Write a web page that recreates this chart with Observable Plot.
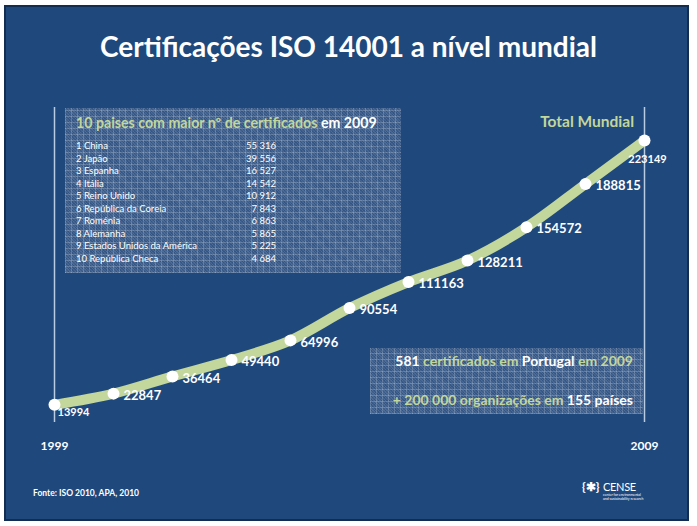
<!DOCTYPE html>
<html>
<head>
<meta charset="utf-8">
<script src="https://cdn.jsdelivr.net/npm/d3@7"></script>
<script src="https://cdn.jsdelivr.net/npm/@observablehq/plot@0.6"></script>
<style>
  html, body { margin: 0; padding: 0; background: #fff; }
  #wrap { position: relative; width: 697px; height: 526px; overflow: hidden; font-family: Lato, "Open Sans", sans-serif; }
  #bg { position: absolute; left: 4px; top: 5px; width: 681px; height: 512px; background: #1F497D; border: 2px solid #122d4f; }
  .patt { position: absolute; background-color: #3a5d8c;
    background-image:
      repeating-linear-gradient(0deg, rgba(255,255,255,0.18) 0 1px, transparent 1px 6px),
      repeating-linear-gradient(90deg, rgba(255,255,255,0.18) 0 1px, transparent 1px 6px),
      repeating-linear-gradient(45deg, rgba(255,255,255,0.10) 0 1px, transparent 1px 2px),
      repeating-linear-gradient(-45deg, rgba(0,20,60,0.10) 0 1px, transparent 1px 2px); }
  .abs { position: absolute; white-space: nowrap; }
  .g { color: #C3D69B; }
  .w { color: #ffffff; }
  #title { left: 0; width: 697px; top: 29px; text-align: center; color: #fff; font-weight: 700; font-size: 28px; }
  #thead { left: 76px; top: 114px; font-size: 14.2px; font-weight: 700; }
  .row { position: absolute; left: 76px; width: 200px; font-size: 9.5px; color: #fff; line-height: 12px; }
  .row span.v { position: absolute; right: 0; }
  #total { right: 63px; top: 112px; font-size: 15.5px; font-weight: 700; }
  .rb { right: 64px; font-size: 14px; font-weight: 700; }
  #src { left: 33px; top: 488px; font-size: 8.5px; font-weight: 700; color: #fff; }
  #logo1 { left: 582px; top: 479px; font-size: 12px; font-weight: 700; color: #fff; }
  #logo2 { left: 603px; top: 480px; font-size: 11px; color: #fff; letter-spacing: -0.3px; }
  #logo3 { left: 603px; top: 493px; font-size: 3.5px; color: #fff; line-height: 4px; }
  #chart { position: absolute; left: 0; top: 0; }
</style>
</head>
<body>
<div id="wrap">
  <div id="bg"></div>
  <div class="patt" style="left:65px; top:108px; width:336px; height:165px;"></div>
  <div class="patt" style="left:370px; top:348px; width:273px; height:66px;"></div>
  <div id="title" class="abs">Certificações ISO 14001 a nível mundial</div>
  <div id="thead" class="abs"><span class="g">10 paises com maior nº de certificados</span> <span class="w">em 2009</span></div>
  <div id="rows"></div>
  <div id="total" class="abs g">Total Mundial</div>
  <div class="abs rb" style="top:352px;"><span class="w">581</span> <span class="g">certificados em</span> <span class="w">Portugal</span> <span class="g">em 2009</span></div>
  <div class="abs rb" style="top:391px;"><span class="g">+ 200 000 organizações em</span> <span class="w">155 países</span></div>
  <div id="src" class="abs">Fonte: ISO 2010, APA, 2010</div>
  <div id="logo1" class="abs">{✱}</div>
  <div id="logo2" class="abs">CENSE</div>
  <div id="logo3" class="abs">center for environmental<br>and sustainability research</div>
  <div id="chart"></div>
</div>
<script>
// Data
const years = [1999, 2000, 2001, 2002, 2003, 2004, 2005, 2006, 2007, 2008, 2009];
const totals = [13994, 22847, 36464, 49440, 64996, 90554, 111163, 128211, 154572, 188815, 223149];
const axisYears = [1999, 2009];
const countries = ["1 China", "2 Japão", "3 Espanha", "4 Itália", "5 Reino Unido", "6 República da Coreia", "7 Roménia", "8 Alemanha", "9 Estados Unidos da América", "10 República Checa"];
const countryValues = ["55 316", "39 556", "16 527", "14 542", "10 912", "7 843", "6 863", "5 865", "5 225", "4 684"];

// Table rows
const rowsDiv = document.getElementById("rows");
countries.forEach((c, i) => {
  const d = document.createElement("div");
  d.className = "row";
  d.style.top = (140 + i * 12.5) + "px";
  d.innerHTML = `<span>${c}</span><span class="v">${countryValues[i]}</span>`;
  rowsDiv.appendChild(d);
});

const data = years.map((y, i) => ({year: y, value: totals[i], i}));
const last = data.length - 1;
const mid = data.filter(d => d.i > 0 && d.i < last);
const first = data.filter(d => d.i === 0);
const end = data.filter(d => d.i === last);

const chart = Plot.plot({
  width: 697,
  height: 526,
  marginLeft: 54,
  marginRight: 53,
  marginTop: 107,
  marginBottom: 104,
  style: {background: "transparent", overflow: "visible", fontFamily: "Lato, sans-serif"},
  x: {domain: [1999, 2009]},
  y: {domain: [0, 249300], axis: null},
  marks: [
    Plot.ruleX(axisYears, {stroke: "#b8cce4", strokeWidth: 1.5}),
    Plot.axisX(axisYears, {tickSize: 0, tickPadding: 19, tickFormat: d => String(d), fill: "#fff", fontSize: 12, fontWeight: "bold", label: null}),
    Plot.line(data, {x: "year", y: "value", stroke: "#C3D69B", strokeWidth: 10, curve: "monotone-x"}),
    Plot.dot(data, {x: "year", y: "value", r: 6, fill: "#fff", stroke: "none"}),
    Plot.text(mid, {x: "year", y: "value", text: d => String(d.value), textAnchor: "start", dx: 10, dy: 2, fill: "#fff", fontSize: 13, fontWeight: "bold"}),
    Plot.text(first, {x: "year", y: "value", text: d => String(d.value), textAnchor: "start", dx: 3, dy: 8, fill: "#fff", fontSize: 11, fontWeight: "bold"}),
    Plot.text(end, {x: "year", y: "value", text: d => String(d.value), textAnchor: "middle", dx: 3, dy: 19, fill: "#fff", fontSize: 11, fontWeight: "bold"})
  ]
});
document.getElementById("chart").appendChild(chart);
</script>
</body>
</html>
